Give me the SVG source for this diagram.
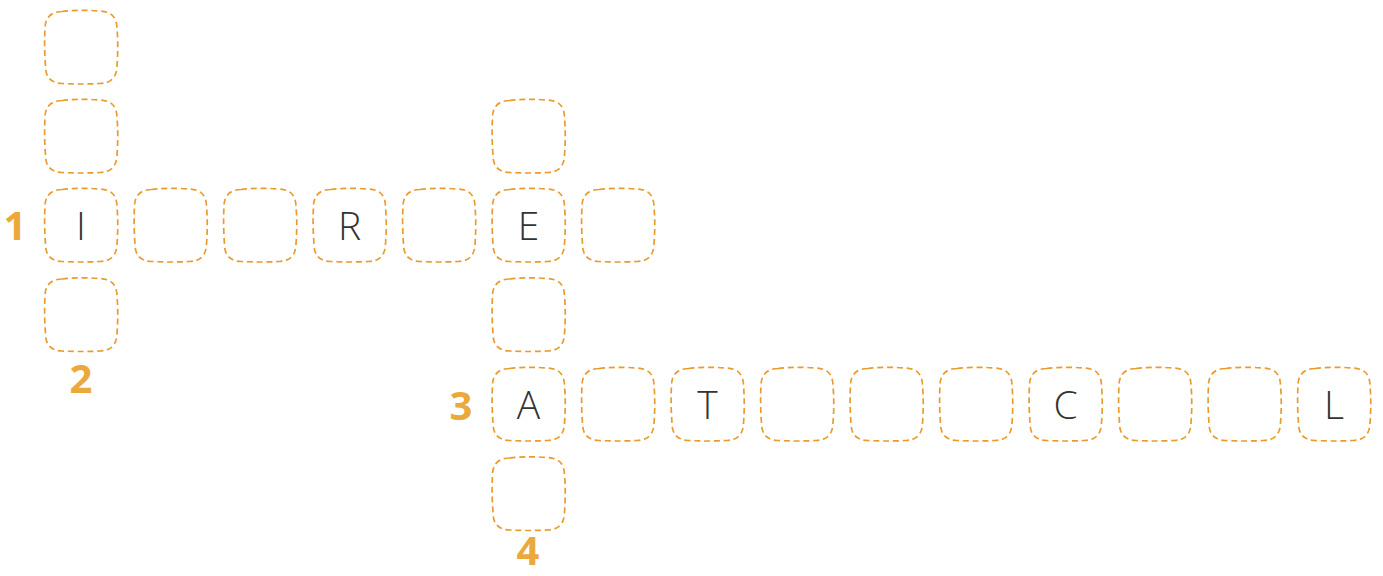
<svg xmlns="http://www.w3.org/2000/svg" xmlns:xlink="http://www.w3.org/1999/xlink" width="1383" height="576" viewBox="0 0 1383 576">
<style>
.cell{fill:none;stroke:#E99B2E;stroke-width:1.7;stroke-dasharray:6 3.8}
.let{font-family:"Open Sans","Liberation Sans",sans-serif;font-weight:300;font-size:39px;fill:#333333;text-anchor:middle}
.num{font-family:"Open Sans","Liberation Sans",sans-serif;font-weight:700;font-size:40px;fill:#EBA93B;text-anchor:middle}
</style>
<defs>
<path id="c" class="cell" d="M18,1.5 Q37,-0.5 56,1 Q72.5,1.5 73,18 Q74.5,37 73,56 Q72.5,73 56,73.5 Q37,74.5 18,73.5 Q1.5,73 1.5,56 Q0,37 1,18 Q1.5,2 18,1.5 Z"/>
</defs>
<rect width="1383" height="576" fill="#ffffff"/>
<g id="word-1-across">
<g id="c-r2-c0"><use xlink:href="#c" x="44" y="188"/><text class="let" x="81" y="240">I</text></g>
<g id="c-r2-c1"><use xlink:href="#c" x="133.5" y="188"/></g>
<g id="c-r2-c2"><use xlink:href="#c" x="223" y="188"/></g>
<g id="c-r2-c3"><use xlink:href="#c" x="312.5" y="188"/><text class="let" x="349.5" y="240">R</text></g>
<g id="c-r2-c4"><use xlink:href="#c" x="402" y="188"/></g>
<g id="c-r2-c5"><use xlink:href="#c" x="491.5" y="188"/><text class="let" x="528.5" y="240">E</text></g>
<g id="c-r2-c6"><use xlink:href="#c" x="581" y="188"/></g>
</g>
<g id="word-2-down">
<g id="c-r0-c0"><use xlink:href="#c" x="44" y="10"/></g>
<g id="c-r1-c0"><use xlink:href="#c" x="44" y="99"/></g>
<g id="c-r3-c0"><use xlink:href="#c" x="44" y="277.5"/></g>
</g>
<g id="word-4-down">
<g id="c-r1-c5"><use xlink:href="#c" x="491.5" y="99"/></g>
<g id="c-r3-c5"><use xlink:href="#c" x="491.5" y="277.5"/></g>
<g id="c-r5-c5"><use xlink:href="#c" x="491.5" y="456.5"/></g>
</g>
<g id="word-3-across">
<g id="c-r4-c5"><use xlink:href="#c" x="491.5" y="367"/><text class="let" x="528.5" y="419">A</text></g>
<g id="c-r4-c6"><use xlink:href="#c" x="581" y="367"/></g>
<g id="c-r4-c7"><use xlink:href="#c" x="670.5" y="367"/><text class="let" x="707.5" y="419">T</text></g>
<g id="c-r4-c8"><use xlink:href="#c" x="760" y="367"/></g>
<g id="c-r4-c9"><use xlink:href="#c" x="849.5" y="367"/></g>
<g id="c-r4-c10"><use xlink:href="#c" x="939" y="367"/></g>
<g id="c-r4-c11"><use xlink:href="#c" x="1028.5" y="367"/><text class="let" x="1065.5" y="419">C</text></g>
<g id="c-r4-c12"><use xlink:href="#c" x="1118" y="367"/></g>
<g id="c-r4-c13"><use xlink:href="#c" x="1207.5" y="367"/></g>
<g id="c-r4-c14"><use xlink:href="#c" x="1297" y="367"/><text class="let" x="1334" y="419">L</text></g>
</g>
<g id="numbers">
<text class="num" x="15" y="240">1</text>
<text class="num" x="81" y="393">2</text>
<text class="num" x="461" y="420">3</text>
<text class="num" x="528" y="565">4</text>
</g>
<g id="connectors"></g>
</svg>
